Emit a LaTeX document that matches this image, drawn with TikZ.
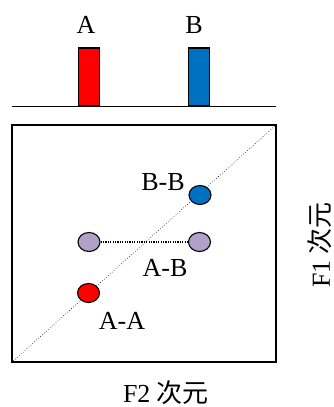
\documentclass[tikz,border=0pt]{standalone}
\usepackage{fontspec}
\setmainfont{Liberation Serif}
\newfontfamily\cjkfont{Noto Sans CJK SC}
\usepackage{xcolor}
\definecolor{peakred}{RGB}{255,0,0}
\definecolor{peakblue}{RGB}{0,112,192}
\definecolor{crosslilac}{RGB}{177,160,199}
\usetikzlibrary{shapes.geometric, positioning}

\begin{document}
\begin{tikzpicture}[
  x=1pt, y=-1pt,
  every node/.style={font=\fontsize{26}{30}\selectfont, inner sep=0pt},
  peak/.style={draw, line width=1.4pt, minimum width=21pt, minimum height=58pt, anchor=south},
  spot/.style={ellipse, draw, line width=1.1pt, minimum width=22pt, minimum height=19pt},
  plotbox/.style={draw, line width=1.4pt, minimum width=264pt, minimum height=237pt}
]
  \useasboundingbox (0,0) rectangle (334,407);

  % 1D spectrum
  \coordinate (axisL) at (12,106.5);
  \coordinate (axisR) at (276,106.5);
  \draw[line width=1.4pt] (axisL) -- (axisR);
  \node[peak, fill=peakred] (peakA) at (89,106.5) {};
  \node[peak, fill=peakblue] (peakB) at (199,106.5) {};
  \node (labA) at (86,25) {A};
  \node (labB) at (194,25) {B};

  % 2D map
  \node[plotbox] (map) at (144,243.5) {};
  \draw[dotted, line width=0.6pt] (map.south west) -- (map.north east);
  \node[spot, fill=peakred] (spotAA) at (88.5,293) {};
  \node[spot, fill=peakblue] (spotBB) at (200,195) {};
  \node[spot, fill=crosslilac] (spotABl) at (89,242) {};
  \node[spot, fill=crosslilac] (spotABr) at (199.5,242) {};
  \draw[dotted, line width=1.2pt, dash pattern=on 1.2pt off 1.2pt] (spotABl.east) -- (spotABr.west);
  \node (labBB) at (163,182.5) {B-B};
  \node (labAB) at (165,267.5) {A-B};
  \node (labAA) at (122,320.5) {A-A};

  % axis titles
  \node (titleF2) at (166,393) {F2 {\cjkfont 次元}};
  \node[rotate=90] (titleF1) at (320,245) {F1 {\cjkfont 次元}};
\end{tikzpicture}
\end{document}
